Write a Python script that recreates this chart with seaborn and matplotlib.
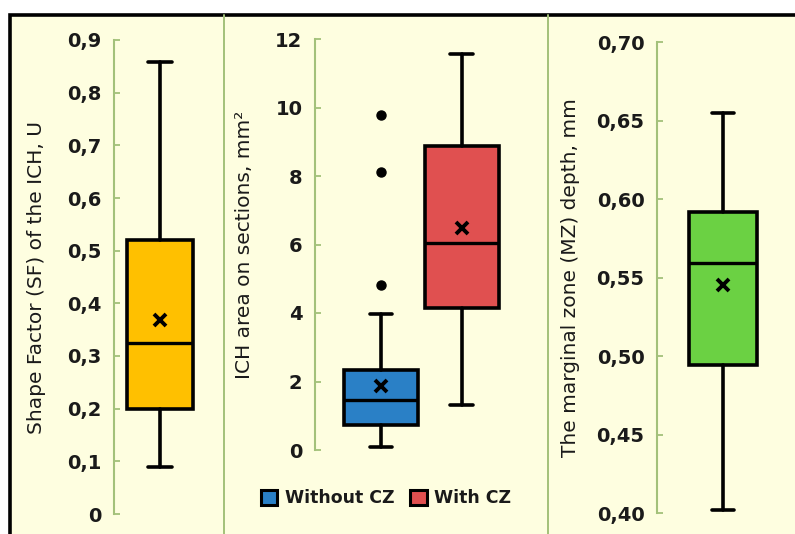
import matplotlib
matplotlib.use("Agg")
import matplotlib.pyplot as plt
from matplotlib.patches import Rectangle, Patch
from matplotlib.lines import Line2D
import seaborn as sns

# ---------------- data ----------------
sf_stats = dict(whislo=0.09, q1=0.20, med=0.325, q3=0.52, whishi=0.858, mean=0.368, fliers=[])
sf_ticks = [0, 0.1, 0.2, 0.3, 0.4, 0.5, 0.6, 0.7, 0.8, 0.9]
sf_ticklabels = ["0", "0,1", "0,2", "0,3", "0,4", "0,5", "0,6", "0,7", "0,8", "0,9"]

area_groups = ["Without CZ", "With CZ"]
area_whislo = [0.10, 1.30]
area_q1 = [0.73, 4.15]
area_med = [1.46, 6.05]
area_q3 = [2.35, 8.88]
area_whishi = [3.97, 11.55]
area_mean = [1.86, 6.48]
area_fliers = [[4.83, 8.12, 9.78], []]
area_ticks = [0, 2, 4, 6, 8, 10, 12]
area_ticklabels = ["0", "2", "4", "6", "8", "10", "12"]

mz_stats = dict(whislo=0.402, q1=0.494, med=0.559, q3=0.592, whishi=0.655, mean=0.545, fliers=[])
mz_ticks = [0.40, 0.45, 0.50, 0.55, 0.60, 0.65, 0.70]
mz_ticklabels = ["0,40", "0,45", "0,50", "0,55", "0,60", "0,65", "0,70"]

# ---------------- style ----------------
sns.set_theme(style="white")
plt.rcParams["font.family"] = ["DejaVu Sans"]

W, H = 795, 534
BG = "#FEFEE0"
AXG = "#A3C17A"
TXT = "#1a1a1a"
C_SF = "#FFC000"
C_WO = "#2A80C6"
C_W = "#E05050"
C_MZ = "#6BD143"

fig = plt.figure(figsize=(W / 100, H / 100), dpi=100, facecolor="white")

# framed background
fig.patches.append(Rectangle((9.5 / W, -0.2), 2.0, 1.2 - 14.5 / H,
                             transform=fig.transFigure, facecolor=BG,
                             edgecolor="black", linewidth=2.6, zorder=-10))
for xd in (224, 548):
    fig.lines.append(Line2D([xd / W, xd / W], [0, 1 - 15 / H], transform=fig.transFigure,
                            color=AXG, linewidth=1.4, zorder=-5))


def make_ax(x0, x1, ytop, ybot):
    ax = fig.add_axes([x0 / W, (H - ybot) / H, (x1 - x0) / W, (ybot - ytop) / H])
    ax.set_facecolor("none")
    sns.despine(ax=ax, top=True, right=True, bottom=True)
    ax.spines["left"].set_color(AXG)
    ax.spines["left"].set_linewidth(1.5)
    ax.tick_params(axis="y", left=True, direction="in", length=4.5, width=1.3, color=AXG,
                   labelsize=14, labelcolor=TXT, pad=9)
    ax.tick_params(axis="x", bottom=False, labelbottom=False)
    return ax


def style_props(color):
    return dict(
        boxprops=dict(facecolor=color, edgecolor="black", linewidth=2.6),
        medianprops=dict(color="black", linewidth=2.4),
        whiskerprops=dict(color="black", linewidth=2.6),
        capprops=dict(color="black", linewidth=2.6),
        meanprops=dict(marker="x", markeredgecolor="black", markeredgewidth=2.8,
                       markersize=9, linestyle="none"),
        flierprops=dict(marker="o", markerfacecolor="black", markeredgecolor="black",
                        markersize=6.5, linestyle="none"),
    )


def set_ticks(ax, ticks, labels):
    ax.set_yticks(ticks)
    ax.set_yticklabels(labels, fontweight="bold")


LABEL_FS = 14.5

# ---- panel 1 ----
ax1 = make_ax(114, 206, 40, 514)
ax1.bxp([sf_stats], positions=[0], widths=[0.72], capwidths=[0.26], patch_artist=True,
        showmeans=True, showfliers=False, **style_props(C_SF))
ax1.set_xlim(-0.5, 0.5)
ax1.set_ylim(0, 0.9)
set_ticks(ax1, sf_ticks, sf_ticklabels)
ax1.set_ylabel("Shape Factor (SF) of the ICH, U", fontsize=LABEL_FS, color=TXT)
ax1.yaxis.set_label_coords(-68 / 92, 0.5)

# ---- panel 2 ----
ax2 = make_ax(315, 526, 39, 450)
colors2 = [C_WO, C_W]
for i in range(len(area_groups)):
    st = dict(whislo=area_whislo[i], q1=area_q1[i], med=area_med[i], q3=area_q3[i],
              whishi=area_whishi[i], mean=area_mean[i], fliers=area_fliers[i])
    ax2.bxp([st], positions=[i], widths=[0.92], capwidths=[0.28], patch_artist=True,
            showmeans=True, showfliers=True, **style_props(colors2[i]))
ax2.set_xlim(-0.82, 1.80)
ax2.set_ylim(0, 12)
set_ticks(ax2, area_ticks, area_ticklabels)
ax2.set_ylabel("ICH area on sections, mm²", fontsize=LABEL_FS, color=TXT)
ax2.yaxis.set_label_coords(-61 / 211, 0.5)

# ---- panel 3 ----
ax3 = make_ax(657, 789, 42, 513)
ax3.bxp([mz_stats], positions=[0], widths=[0.51], capwidths=[0.16], patch_artist=True,
        showmeans=True, showfliers=False, **style_props(C_MZ))
ax3.set_xlim(-0.5, 0.5)
ax3.set_ylim(0.40, 0.70)
set_ticks(ax3, mz_ticks, mz_ticklabels)
ax3.set_ylabel("The marginal zone (MZ) depth, mm", fontsize=LABEL_FS, color=TXT)
ax3.yaxis.set_label_coords(-77 / 132, 0.5)

# legend
handles = [Patch(facecolor=c, edgecolor="black", linewidth=2.2, label=g)
           for c, g in zip(colors2, area_groups)]
fig.legend(handles=handles, loc="center", bbox_to_anchor=(386 / W, 1 - 498 / H), ncol=2,
           frameon=False, handlelength=0.95, handleheight=0.95, handletextpad=0.45,
           columnspacing=0.9, prop=dict(size=12.5, weight="bold"), labelcolor=TXT)

fig.savefig("out.png", dpi=100, facecolor="white")
